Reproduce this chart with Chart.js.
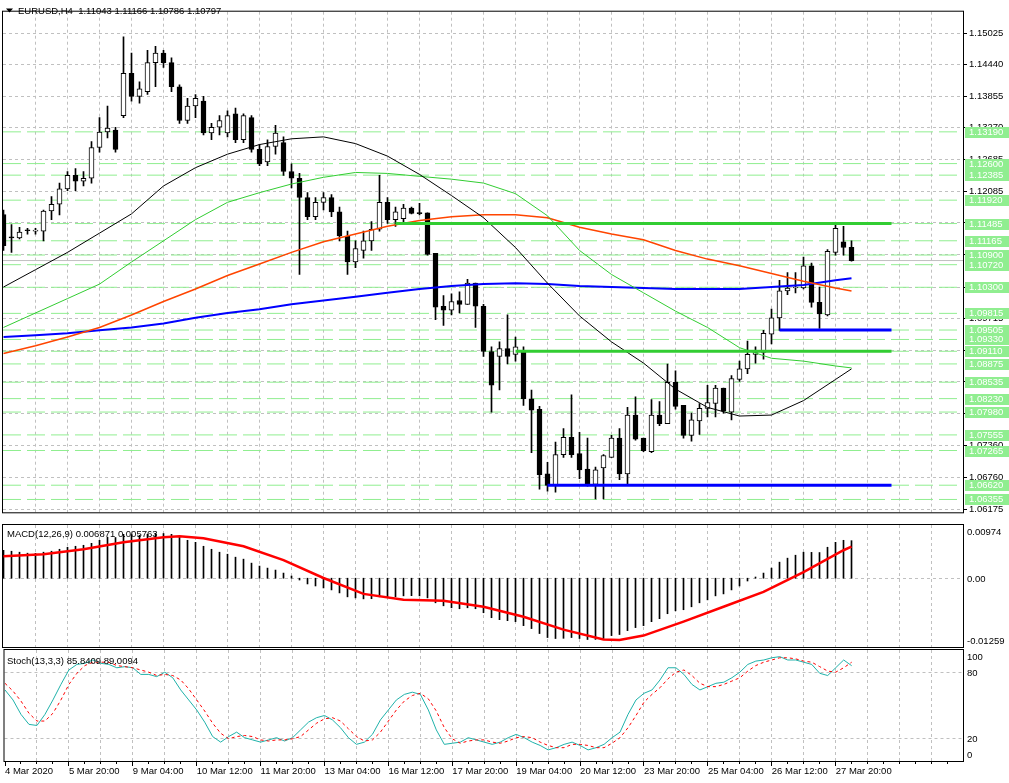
<!DOCTYPE html>
<html>
<head>
<meta charset="utf-8">
<title>EURUSD,H4</title>
<script src="https://cdn.jsdelivr.net/npm/chart.js@4.4.1/dist/chart.umd.min.js"></script>
<style>
  html, body { margin:0; padding:0; background:#ffffff; }
  #wrap { position:relative; width:1009px; height:783px; overflow:hidden; background:#ffffff; }
  #wrap canvas { position:absolute; left:0; }
</style>
</head>
<body>
<div id="wrap">
  <canvas id="pricePane" width="1009" height="524" style="top:0px;width:1009px;height:524px"></canvas>
  <canvas id="macdPane" width="1009" height="126" style="top:523px;width:1009px;height:126px"></canvas>
  <canvas id="stochPane" width="1009" height="135" style="top:648px;width:1009px;height:135px"></canvas>
</div>
<script>
// ================= DATA =================
const symbolName = "EURUSD,H4";
const timeLabels = ["4 Mar 2020","5 Mar 20:00","9 Mar 04:00","10 Mar 12:00","11 Mar 20:00","13 Mar 04:00","16 Mar 12:00","17 Mar 20:00","19 Mar 04:00","20 Mar 12:00","23 Mar 20:00","25 Mar 04:00","26 Mar 12:00","27 Mar 20:00"];
const labelBars = [0,8,16,24,32,40,48,56,64,72,80,88,96,104];

const opens = [1.11653,1.11236,1.11218,1.11361,1.11343,1.11343,1.11719,1.11844,1.12131,1.12381,
1.12274,1.12328,1.12900,1.13187,1.13223,1.13491,1.14279,1.13849,1.13939,1.14476,
1.14655,1.14476,1.14028,1.13402,1.13670,1.13760,1.13169,1.13276,1.13169,1.13527,
1.13044,1.13455,1.12865,1.12632,1.12918,1.12990,1.12453,1.12328,1.11970,1.11612,
1.11880,1.11970,1.11701,1.11254,1.10770,1.10985,1.11164,1.11379,1.11880,1.11558,
1.11576,1.11773,1.11674,1.11683,1.10931,1.09947,1.09875,1.10054,1.09983,1.10376,
1.09947,1.09106,1.09016,1.09159,1.09052,1.09106,1.08228,1.08032,1.06832,1.06617,
1.07190,1.07512,1.07208,1.06922,1.06635,1.06940,1.07137,1.07495,1.06832,1.07924,
1.07495,1.07244,1.07924,1.07763,1.08533,1.08103,1.07548,1.07817,1.08049,1.08139,
1.08425,1.07978,1.08586,1.08783,1.09052,1.09088,1.09428,1.09732,1.10233,1.10287,
1.10287,1.10699,1.10018,1.09786,1.10949,1.11146,1.11043];
const highs = [1.11737,1.11468,1.11415,1.11397,1.11397,1.11737,1.11987,1.12238,1.12453,1.12507,
1.12453,1.13008,1.13455,1.13670,1.13276,1.14959,1.14655,1.14118,1.14708,1.14780,
1.14708,1.14565,1.14064,1.13813,1.13885,1.13849,1.13348,1.13491,1.13581,1.13634,
1.13527,1.13491,1.12954,1.13044,1.13312,1.13097,1.12596,1.12417,1.12059,1.11970,
1.12059,1.12023,1.11791,1.11343,1.11164,1.11343,1.11522,1.12381,1.11970,1.11791,
1.11844,1.11791,1.11862,1.11683,1.10931,1.10144,1.10180,1.10215,1.10448,1.10376,
1.09983,1.09195,1.09285,1.09786,1.09374,1.09195,1.08390,1.08085,1.07047,1.07423,
1.07674,1.08300,1.07602,1.07495,1.06958,1.07190,1.07548,1.07674,1.08067,1.08264,
1.07495,1.08211,1.08175,1.08873,1.08748,1.08103,1.07960,1.08139,1.08479,1.08479,
1.08425,1.08658,1.08927,1.09302,1.09195,1.09499,1.09893,1.10430,1.10573,1.10573,
1.10860,1.10752,1.10305,1.11003,1.11468,1.11433,1.11166];
const lows = [1.10985,1.10949,1.11200,1.11289,1.11289,1.11164,1.11558,1.11647,1.12095,1.12095,
1.12184,1.12238,1.12811,1.13079,1.12811,1.13455,1.13760,1.13724,1.13885,1.14028,
1.14386,1.13939,1.13348,1.13348,1.13455,1.13133,1.13044,1.13133,1.13097,1.12990,
1.12990,1.12811,1.12560,1.12560,1.12775,1.12381,1.12149,1.10538,1.11558,1.11558,
1.11737,1.11612,1.11164,1.10538,1.10663,1.10842,1.10985,1.11343,1.11486,1.11433,
1.11486,1.11665,1.11647,1.10896,1.09696,1.09589,1.09786,1.09822,1.09983,1.09553,
1.09016,1.07978,1.08390,1.08873,1.08927,1.08103,1.07226,1.06546,1.06510,1.06492,
1.07137,1.07137,1.06743,1.06600,1.06367,1.06367,1.07137,1.06725,1.06635,1.07459,
1.07244,1.07226,1.07727,1.07763,1.08032,1.07495,1.07441,1.07566,1.07888,1.07888,
1.07960,1.07835,1.08551,1.08694,1.08891,1.08962,1.09249,1.09499,1.10162,1.10197,
1.10269,1.09929,1.09535,1.09768,1.10896,1.10896,1.10786];
const closes = [1.11075,1.11218,1.11325,1.11352,1.11347,1.11719,1.11844,1.12131,1.12381,1.12274,
1.12328,1.12900,1.13187,1.13258,1.12865,1.14279,1.13849,1.13992,1.14476,1.14655,
1.14476,1.14028,1.13402,1.13670,1.13813,1.13169,1.13276,1.13402,1.13491,1.13044,
1.13491,1.12865,1.12596,1.12918,1.13169,1.12453,1.12328,1.11970,1.11612,1.11880,
1.11970,1.11701,1.11254,1.10770,1.11021,1.11164,1.11379,1.11880,1.11558,1.11701,
1.11773,1.11674,1.11670,1.10913,1.09929,1.09875,1.10036,1.09983,1.10376,1.09947,
1.09106,1.08479,1.09159,1.09016,1.09195,1.08228,1.08014,1.06814,1.06617,1.07190,
1.07512,1.07190,1.06904,1.06617,1.06904,1.07172,1.07495,1.06832,1.07924,1.07477,
1.07262,1.07924,1.07763,1.08533,1.08085,1.07548,1.07835,1.08049,1.08157,1.08425,
1.07996,1.08604,1.08783,1.09052,1.09088,1.09446,1.09732,1.10233,1.10287,1.10305,
1.10699,1.10018,1.09804,1.10967,1.11397,1.11039,1.10797];

// moving averages, read at these bars
const maBars = [0,4,8,12,16,20,24,28,32,36,40,44,48,52,56,60,64,68,72,76,80,84,88,92,96,100,104,106];
const maBlack = [1.10305,1.10627,1.10949,1.11307,1.11665,1.12184,1.12524,1.12775,1.12954,1.13061,1.13097,1.12972,1.12739,1.12399,1.12005,1.11594,1.11039,1.10376,1.09768,1.09285,1.08891,1.08407,1.08067,1.07906,1.07924,1.08193,1.08586,1.08783];
const maGreen = [1.09553,1.09822,1.10090,1.10359,1.10770,1.11164,1.11558,1.11880,1.12059,1.12220,1.12345,1.12435,1.12417,1.12363,1.12310,1.12238,1.12041,1.11629,1.10985,1.10538,1.10197,1.09857,1.09553,1.09177,1.08980,1.08927,1.08837,1.08801];
const maOrange = [1.09067,1.09213,1.09374,1.09553,1.09786,1.10036,1.10269,1.10520,1.10734,1.10949,1.11146,1.11289,1.11433,1.11540,1.11612,1.11647,1.11647,1.11594,1.11415,1.11289,1.11182,1.10985,1.10824,1.10699,1.10555,1.10412,1.10287,1.10233];
const maBlue = [1.09374,1.09410,1.09446,1.09499,1.09553,1.09625,1.09732,1.09822,1.09893,1.09983,1.10054,1.10126,1.10197,1.10269,1.10323,1.10359,1.10376,1.10359,1.10323,1.10305,1.10287,1.10269,1.10269,1.10269,1.10305,1.10341,1.10430,1.10466];

const priceTicks = [1.15025,1.14440,1.13855,1.13270,1.12685,1.12085,1.11500,1.10915,1.10300,1.09715,1.09130,1.08545,1.07945,1.07360,1.06760,1.06175];
const levelPrices = [1.13190,1.12600,1.12385,1.11920,1.11485,1.11165,1.10900,1.10720,1.10300,1.09815,1.09505,1.09330,1.09110,1.08875,1.08535,1.08230,1.07980,1.07555,1.07265,1.06620,1.06355];
const bidPrice = 1.10797;
const greenLinePrices = [1.11485, 1.09110];
const greenLineFrom = [49, 64];
const blueLinePrices = [1.09505, 1.06620];
const blueLineFrom = [97, 68];
const objectLineEnd = 111;

const macdMain = [0.00512,0.00494,0.00476,0.00458,0.00455,0.00476,0.00494,0.00530,0.00567,0.00585,
0.00603,0.00639,0.00694,0.00748,0.00745,0.00803,0.00800,0.00785,0.00803,0.00821,
0.00818,0.00803,0.00748,0.00694,0.00657,0.00585,0.00530,0.00476,0.00439,0.00385,
0.00349,0.00276,0.00222,0.00185,0.00149,0.00094,0.00040,-0.00033,-0.00105,-0.00142,
-0.00178,-0.00214,-0.00269,-0.00341,-0.00360,-0.00378,-0.00375,-0.00341,-0.00338,-0.00341,
-0.00323,-0.00320,-0.00323,-0.00360,-0.00450,-0.00505,-0.00541,-0.00559,-0.00541,-0.00559,
-0.00632,-0.00723,-0.00759,-0.00777,-0.00795,-0.00868,-0.00922,-0.01013,-0.01086,-0.01104,
-0.01100,-0.01086,-0.01104,-0.01122,-0.01120,-0.01104,-0.01050,-0.01031,-0.00959,-0.00904,
-0.00868,-0.00795,-0.00741,-0.00650,-0.00596,-0.00577,-0.00523,-0.00450,-0.00396,-0.00323,
-0.00287,-0.00214,-0.00142,-0.00051,0.00022,0.00094,0.00185,0.00294,0.00367,0.00421,
0.00476,0.00473,0.00470,0.00567,0.00657,0.00694,0.006871];
const signalBars = [0,5,10,15,20,22,25,30,35,40,45,50,55,60,65,70,75,77,80,85,90,95,100,105,106];
const macdSignal = [0.00403,0.00439,0.00530,0.00657,0.00748,0.00766,0.00730,0.00585,0.00331,0.00004,-0.00287,-0.00396,-0.00414,-0.00523,-0.00705,-0.00941,-0.01122,-0.01131,-0.01050,-0.00795,-0.00523,-0.00251,0.00113,0.00512,0.005763];
const macdTop = 0.00974, macdBottom = -0.01259;

const stochMain = [64,55,42,33,32,42,55,69,82,87,
88,91,88,87,84,85,84,78,78,76,
80,75,64,55,46,35,22,17,22,26,
21,19,17,19,21,18,21,28,35,39,
41,37,30,21,15,17,24,37,46,55,
60,62,60,46,28,15,16,17,21,19,
17,15,17,21,24,21,17,14,10,12,
15,17,14,10,12,15,21,26,42,55,
61,64,73,84,84,78,69,64,67,70,
71,75,80,87,90,91,93,94,91,91,
89,87,79,77,84,91,85.8409];
const stochSignal = [70,63,54,43,36,36,43,55,69,79,
86,89,89,89,86,85,84,82,80,77,
78,77,73,65,55,45,34,25,20,22,
23,22,19,18,19,19,20,22,28,34,
38,39,36,29,22,18,19,26,36,46,
54,59,61,56,45,30,20,16,18,19,
19,17,16,18,21,22,21,17,14,12,
12,15,15,14,12,12,16,21,30,41,
53,60,66,74,80,82,77,70,67,67,
69,72,75,81,86,89,91,93,93,92,
90,89,85,81,80,84,89.0094];
const stochLevels = [20, 80];

// ================= STYLE / LAYOUT =================
const FONT = '"Liberation Sans", Arimo, Arial, sans-serif';
const FS = 9.5;
Chart.defaults.font.family = FONT;
Chart.defaults.font.size = FS;
Chart.defaults.color = '#000';
const X_MIN = -0.0625, X_MAX = 119.9375;
const AXIS_W = 46;
const GRID = '#C0C0C0';
const LEVEL_C = '#90EE90';
const PRICE_MAX = 1.1546 - 0.000179 * 2;
const PRICE_MIN = 1.1546 - 0.000179 * 522;

const crisp = v => Math.round(v - 0.5) + 0.5;

function vGrid(chart) {
  const {ctx, chartArea: a, scales: {x}} = chart;
  ctx.save();
  ctx.strokeStyle = GRID; ctx.lineWidth = 1; ctx.setLineDash([3, 3]);
  ctx.beginPath();
  for (let i = 4; i < X_MAX; i += 4) {
    const px = crisp(x.getPixelForValue(i));
    ctx.moveTo(px, a.top); ctx.lineTo(px, a.bottom);
  }
  ctx.stroke();
  ctx.restore();
}
function hGrid(chart, values) {
  const {ctx, chartArea: a, scales: {y}} = chart;
  ctx.save();
  ctx.strokeStyle = GRID; ctx.lineWidth = 1; ctx.setLineDash([3, 3]);
  ctx.beginPath();
  values.forEach(v => {
    const py = crisp(y.getPixelForValue(v));
    ctx.moveTo(a.left, py); ctx.lineTo(a.right, py);
  });
  ctx.stroke();
  ctx.restore();
}
function frame(chart) {
  const {ctx, chartArea: a} = chart;
  ctx.save();
  ctx.strokeStyle = '#000'; ctx.lineWidth = 1; ctx.setLineDash([]);
  ctx.strokeRect(a.left - 0.5, a.top - 0.5, a.right - a.left + 1, a.bottom - a.top + 1);
  ctx.restore();
}
function txt(ctx, s, x, y, color, base) {
  ctx.fillStyle = color || '#000';
  ctx.textBaseline = base || 'middle';
  ctx.textAlign = 'left';
  ctx.font = FS + 'px ' + FONT;
  ctx.fillText(s, x, y);
}

const commonOpts = {
  responsive: false, animation: false, devicePixelRatio: 1, events: [],
  plugins: { legend: {display: false}, tooltip: {enabled: false}, title: {display: false} }
};
function hiddenX() {
  return { type: 'linear', min: X_MIN, max: X_MAX, offset: false, display: false };
}
function rightY(min, max, extra) {
  return Object.assign({
    type: 'linear', position: 'right', min: min, max: max,
    grid: {display: false, drawTicks: false}, border: {display: false},
    afterFit(s) { s.width = AXIS_W; },
    ticks: {display: false}
  }, extra || {});
}
const lineDs = (pts, color, width, order, dash) => ({
  type: 'line', data: pts, borderColor: color, borderWidth: width, borderDash: dash || [],
  pointRadius: 0, tension: 0, fill: false, order: order
});

// ================= PRICE PANE =================
const priceDatasets = [];
greenLinePrices.forEach((p, k) => priceDatasets.push(lineDs([{x: greenLineFrom[k], y: p}, {x: objectLineEnd, y: p}], '#32CD32', 3, 0)));
blueLinePrices.forEach((p, k) => priceDatasets.push(lineDs([{x: blueLineFrom[k], y: p}, {x: objectLineEnd, y: p}], '#0000FF', 3, 0)));
const maPts = arr => maBars.map((b, k) => ({x: b, y: arr[k]}));
priceDatasets.push(lineDs(maPts(maBlack), '#000000', 1, 1));
priceDatasets.push(lineDs(maPts(maGreen), '#32CD32', 1, 1));
priceDatasets.push(lineDs(maPts(maOrange), '#FF4500', 1.5, 1));
priceDatasets.push(lineDs(maPts(maBlue), '#0000FF', 2, 1));
priceDatasets.push({
  type: 'bar', data: opens.map((o, i) => ({x: i, y: [o, closes[i]]})),
  backgroundColor: c => closes[c.dataIndex] >= opens[c.dataIndex] ? '#FFFFFF' : '#000000',
  borderColor: '#000000', borderWidth: 1, borderSkipped: false, barThickness: 5,
  minBarLength: 1, grouped: false, order: 2
});
priceDatasets.push({
  type: 'bar', data: lows.map((l, i) => ({x: i, y: [l, highs[i]]})),
  backgroundColor: '#000000', borderWidth: 0, barThickness: 1, grouped: false, order: 3
});
priceDatasets.push(lineDs([{x: X_MIN, y: bidPrice}, {x: X_MAX, y: bidPrice}], '#C0C0C0', 1, 4));
levelPrices.forEach(p => priceDatasets.push(lineDs([{x: X_MIN, y: p}, {x: X_MAX, y: p}], LEVEL_C, 1, 5, [18, 6])));

const pricePlugin = {
  id: 'pricePane',
  beforeDatasetsDraw(chart) { hGrid(chart, priceTicks); vGrid(chart); },
  afterDraw(chart) {
    const {ctx, chartArea: a, scales: {y}} = chart;
    frame(chart);
    ctx.save();
    ctx.strokeStyle = '#000'; ctx.lineWidth = 1;
    ctx.beginPath();
    priceTicks.forEach(v => { const py = crisp(y.getPixelForValue(v)); ctx.moveTo(a.right, py); ctx.lineTo(a.right + 4, py); });
    ctx.stroke();
    levelPrices.forEach(p => {
      const py = y.getPixelForValue(p);
      ctx.fillStyle = LEVEL_C;
      ctx.fillRect(a.right + 2, Math.round(py) - 5, AXIS_W, 11);
      txt(ctx, p.toFixed(5), a.right + 6, Math.round(py) + 0.5, '#FFFFFF');
    });
    // header
    ctx.fillStyle = '#000';
    ctx.beginPath(); ctx.moveTo(6, 8.5); ctx.lineTo(13, 8.5); ctx.lineTo(9.5, 12.5); ctx.closePath(); ctx.fill();
    const n = closes.length - 1;
    txt(ctx, symbolName + '  ' + opens[n].toFixed(5) + ' ' + highs[n].toFixed(5) + ' ' + lows[n].toFixed(5) + ' ' + closes[n].toFixed(5), 18, 11, '#000');
    ctx.restore();
  }
};

new Chart(document.getElementById('pricePane'), {
  type: 'bar',
  data: { datasets: priceDatasets },
  options: Object.assign({}, commonOpts, {
    layout: { padding: { left: 3, right: 0, top: 2, bottom: 2 } },
    scales: {
      x: hiddenX(),
      y: rightY(PRICE_MIN, PRICE_MAX, {
        afterBuildTicks(s) { s.ticks = priceTicks.map(v => ({value: v})); },
        ticks: { display: true, autoSkip: false, padding: 6, color: '#000', font: {family: FONT, size: FS},
                 callback: v => Number(v).toFixed(5) }
      })
    }
  }),
  plugins: [pricePlugin]
});

// ================= MACD PANE =================
const macdPlugin = {
  id: 'macdPane',
  beforeDatasetsDraw(chart) { hGrid(chart, [0]); vGrid(chart); },
  afterDraw(chart) {
    const {ctx, chartArea: a, scales: {y}} = chart;
    frame(chart);
    ctx.save();
    const n = macdMain.length - 1;
    txt(ctx, 'MACD(12,26,9) ' + macdMain[n].toFixed(6) + ' ' + macdSignal[macdSignal.length - 1].toFixed(6), 7, a.top + 9.5);
    txt(ctx, macdTop.toFixed(5), a.right + 4, a.top + 7);
    txt(ctx, '0.00', a.right + 4, y.getPixelForValue(0) + 1.5);
    txt(ctx, macdBottom.toFixed(5), a.right + 4, a.bottom - 6);
    ctx.restore();
  }
};
new Chart(document.getElementById('macdPane'), {
  type: 'bar',
  data: { datasets: [
    lineDs(signalBars.map((b, k) => ({x: b, y: macdSignal[k]})), '#FF0000', 2.5, 0),
    { type: 'bar', data: macdMain.map((v, i) => ({x: i, y: v})), backgroundColor: '#000000',
      borderWidth: 0, barThickness: 1, grouped: false, order: 1 }
  ]},
  options: Object.assign({}, commonOpts, {
    layout: { padding: { left: 3, right: 0, top: 2, bottom: 2 } },
    scales: { x: hiddenX(), y: rightY(macdBottom, macdTop) }
  }),
  plugins: [macdPlugin]
});

// ================= STOCH PANE =================
const stochPlugin = {
  id: 'stochPane',
  beforeDatasetsDraw(chart) { hGrid(chart, stochLevels); vGrid(chart); },
  afterDraw(chart) {
    const {ctx, chartArea: a, scales: {x, y}} = chart;
    frame(chart);
    ctx.save();
    const n = stochMain.length - 1;
    txt(ctx, 'Stoch(13,3,3) ' + stochMain[n].toFixed(4) + ' ' + stochSignal[n].toFixed(4), 7, a.top + 11);
    txt(ctx, '100', a.right + 4, a.top + 7);
    stochLevels.forEach(v => txt(ctx, String(v), a.right + 4, y.getPixelForValue(v) + 1));
    txt(ctx, '0', a.right + 4, a.bottom - 6);
    // time axis tick marks
    ctx.strokeStyle = '#000'; ctx.lineWidth = 1; ctx.setLineDash([]);
    ctx.beginPath();
    for (let i = 0; i < X_MAX; i += 2) {
      const px = crisp(x.getPixelForValue(i));
      const major = labelBars.indexOf(i) >= 0;
      ctx.moveTo(px, a.bottom + 1); ctx.lineTo(px, a.bottom + (major ? 5 : 3));
    }
    ctx.stroke();
    ctx.restore();
  }
};
new Chart(document.getElementById('stochPane'), {
  type: 'line',
  data: { datasets: [
    lineDs(stochMain.map((v, i) => ({x: i, y: v})), '#20B2AA', 1, 1),
    lineDs(stochSignal.map((v, i) => ({x: i, y: v})), '#FF0000', 1, 0, [3, 3])
  ]},
  options: Object.assign({}, commonOpts, {
    layout: { padding: { left: 3, right: 0, top: 2, bottom: 0 } },
    scales: {
      x: { type: 'linear', min: X_MIN, max: X_MAX, offset: false, position: 'bottom',
           grid: {display: false, drawTicks: false}, border: {display: false},
           afterFit(s) { s.height = 22; },
           afterBuildTicks(s) { s.ticks = labelBars.map(v => ({value: v})); },
           ticks: { autoSkip: false, maxRotation: 0, minRotation: 0, align: 'start', padding: 5,
                    color: '#000', font: {family: FONT, size: FS},
                    callback: (v, idx) => timeLabels[idx] } },
      y: rightY(0, 100)
    }
  }),
  plugins: [stochPlugin]
});
</script>
</body>
</html>
